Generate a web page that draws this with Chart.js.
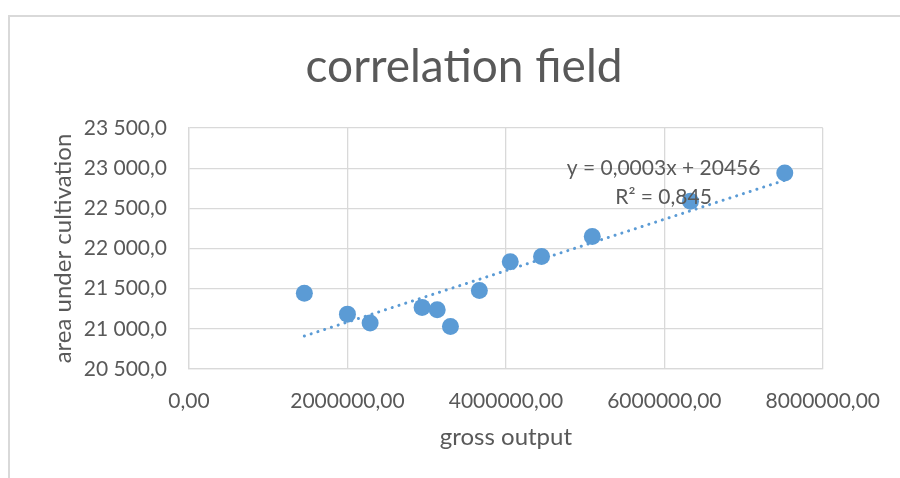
<!DOCTYPE html>
<html>
<head>
<meta charset="utf-8">
<script src="https://cdn.jsdelivr.net/npm/chart.js@4.4.1/dist/chart.umd.min.js"></script>
<style>
	html, body { margin: 0; padding: 0; background: #fff; }
	#wrap { position: relative; width: 900px; height: 478px; overflow: hidden; }
	#frame { position: absolute; left: 8px; top: 15px; width: 900px; height: 480px;
		border-left: 2px solid #d9d9d9; border-top: 2px solid #d9d9d9; }
	#chart { position: absolute; left: 0; top: 0; }
</style>
</head>
<body>
<div id="wrap">
	<div id="frame"></div>
	<canvas id="chart" width="900" height="478"></canvas>
</div>
<script>
"use strict";

var chartTitle = "correlation field";
var xTitle = "gross output";
var yTitle = "area under cultivation";

// gross output
var grossOutput = [1456000, 2000000, 2286000, 2942000, 3133000, 3300000, 3665000, 4055000, 4450000, 5090000, 6330000, 7520000];
// area under cultivation
var area = [21444, 21183, 21072, 21267, 21237, 21030, 21478, 21835, 21899, 22148, 22587, 22941];

var trendLabel = ["y = 0,0003x + 20456", "R\u00B2 = 0,845"];

var font = "Lato, 'Open Sans', sans-serif";
var grey = "#595959";
var blue = "#5b9bd5";

// linear trend (least squares) over the points
var n = grossOutput.length, mx = 0, my = 0;
for (var i = 0; i < n; i++) { mx += grossOutput[i]; my += area[i]; }
mx /= n; my /= n;
var sxy = 0, sxx = 0;
for (var i = 0; i < n; i++) {
	sxy += (grossOutput[i] - mx) * (area[i] - my);
	sxx += (grossOutput[i] - mx) * (grossOutput[i] - mx);
}
var slope = sxy / sxx, icept = my - slope * mx;
var xMin = Math.min.apply(null, grossOutput), xMax = Math.max.apply(null, grossOutput);
var trend = [{x: xMin, y: icept + slope * xMin}, {x: xMax, y: icept + slope * xMax}];

var points = grossOutput.map(function (v, k) { return {x: v, y: area[k]}; });

// title and trend equation drawn on the canvas
var textPlugin = {
	id: "texts",
	afterDraw: function (chart) {
		var ctx = chart.ctx, sx = chart.scales.x, sy = chart.scales.y;
		ctx.save();
		ctx.fillStyle = grey;
		ctx.textAlign = "center";
		ctx.textBaseline = "middle";
		ctx.font = "46px " + font;
		ctx.fillText(chartTitle, 464, 67);
		ctx.font = "21px " + font;
		var cx = sx.getPixelForValue(5990000);
		ctx.fillText(trendLabel[0], cx, sy.getPixelForValue(23000));
		ctx.fillText(trendLabel[1], cx, sy.getPixelForValue(22640));
		ctx.restore();
	}
};

function yTick(v) {
	var th = Math.floor(v / 1000), rest = String(v % 1000);
	while (rest.length < 3) rest = "0" + rest;
	return th + " " + rest + ",0";
}

var chart = new Chart(document.getElementById("chart"), {
	type: "scatter",
	data: {
		datasets: [
			{
				type: "line",
				label: "trend",
				data: trend,
				borderColor: blue,
				borderWidth: 3,
				borderDash: [0.1, 7],
				borderCapStyle: "round",
				pointRadius: 0,
				fill: false,
				order: 0
			},
			{
				label: yTitle,
				data: points,
				backgroundColor: blue,
				borderColor: blue,
				borderWidth: 0,
				pointRadius: 8.5,
				pointHoverRadius: 8.5,
				order: 1
			}
		]
	},
	options: {
		responsive: false,
		animation: false,
		events: [],
		layout: { padding: { top: 128, right: 75, bottom: 26, left: 49 } },
		plugins: {
			legend: { display: false },
			tooltip: { enabled: false },
			title: { display: false }
		},
		scales: {
			x: {
				type: "linear",
				min: 0,
				max: 8000000,
				afterFit: function (scale) { scale.height = 83; },
				ticks: {
					stepSize: 2000000,
					color: grey,
					padding: 20,
					font: { family: font, size: 21 },
					callback: function (v) { return v + ",00"; }
				},
				grid: { color: "#d9d9d9", lineWidth: 1.3, drawTicks: false },
				border: { display: true, color: "#d9d9d9", width: 1.3 },
				title: {
					display: true,
					text: xTitle,
					color: grey,
					font: { family: font, size: 24 },
					padding: { top: 0, bottom: 0 }
				}
			},
			y: {
				min: 20500,
				max: 23500,
				afterFit: function (scale) { scale.width = 140; },
				ticks: {
					stepSize: 500,
					color: grey,
					padding: 22,
					font: { family: font, size: 21 },
					callback: yTick
				},
				grid: { color: "#d9d9d9", lineWidth: 1.3, drawTicks: false },
				border: { display: true, color: "#d9d9d9", width: 1.3 },
				title: {
					display: true,
					text: yTitle,
					color: grey,
					font: { family: font, size: 24 },
					padding: { top: 0, bottom: 0 }
				}
			}
		}
	},
	plugins: [textPlugin]
});
</script>
</body>
</html>
